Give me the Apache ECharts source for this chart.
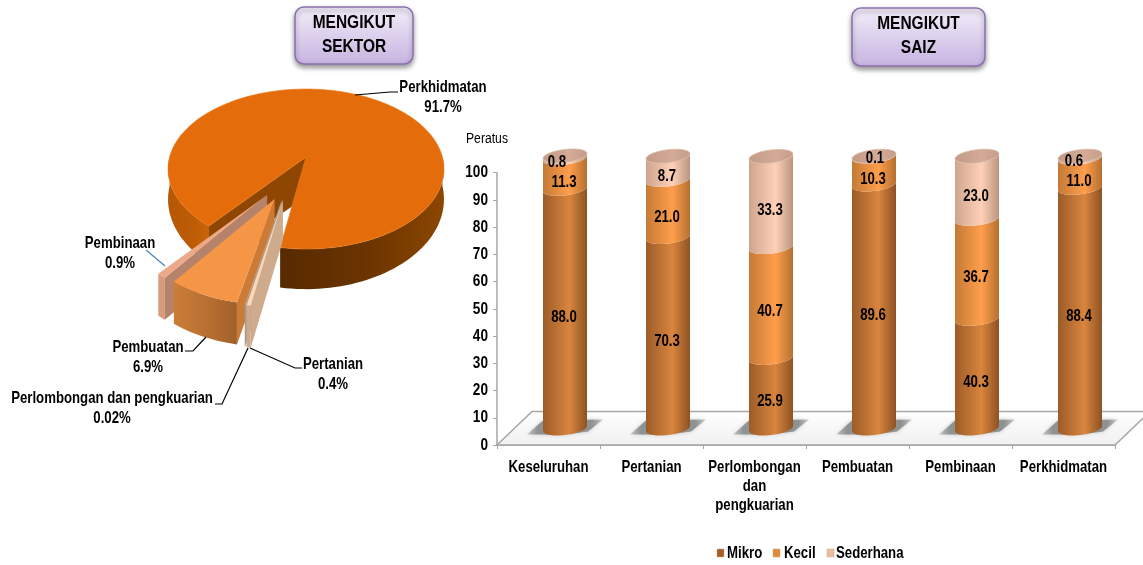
<!DOCTYPE html>
<html><head><meta charset="utf-8">
<style>html,body{margin:0;padding:0;background:#fff}#c{width:1143px;height:565px}</style>
<script src="https://cdn.jsdelivr.net/npm/echarts@6/dist/echarts.min.js"></script>
</head><body><div id="c"></div>
<script>
// ---- data ----
const categories = ['Keseluruhan','Pertanian','Perlombongan\ndan\npengkuarian','Pembuatan','Pembinaan','Perkhidmatan'];
const seriesNames = ['Mikro','Kecil','Sederhana'];
const mikro     = [88.0, 70.3, 25.9, 89.6, 40.3, 88.4];
const kecil     = [11.3, 21.0, 40.7, 10.3, 36.7, 11.0];
const sederhana = [0.8, 8.7, 33.3, 0.1, 23.0, 0.6];
const yTicks = [0,10,20,30,40,50,60,70,80,90,100];
const sectorNames  = ['Pertanian','Perlombongan dan pengkuarian','Pembuatan','Pembinaan','Perkhidmatan'];
const sectorShares = [0.4, 0.02, 6.9, 0.9, 91.7];
const sectorLabels = ['0.4%','0.02%','6.9%','0.9%','91.7%'];

// ---- look ----
const FONT = '"Liberation Sans",Arial,sans-serif';
const NARROW = .8;
const hGrad = (a,b,c) => ({type:'linear',x:0,y:0,x2:1,y2:0,colorStops:[{offset:0,color:a},{offset:.6,color:b},{offset:1,color:c}]});
const barFill = [hGrad('#9c5c28','#d9853e','#8d5222'), hGrad('#c47a36','#ff9e4c','#b57030'), hGrad('#cfa48e','#ffd0b8','#b9957f')];
const legendFill = ['#a65d28','#e18a3c','#e9bda3'];
const shadowFill = {type:'linear',x:0,y:0,x2:1,y2:0,colorStops:[{offset:0,color:'rgba(140,140,140,.35)'},{offset:.15,color:'#8f9292'},{offset:.85,color:'#8f9292'},{offset:1,color:'rgba(140,140,140,.35)'}]};
const narrowText = (x, y, text, size, align, vAlign, extra) => Object.assign({type:'text', x, y, scaleX:NARROW,
  style:Object.assign({text, align, verticalAlign:vAlign, font:'bold '+size+'px '+FONT, fill:'#000'}, extra||{})});

// ---- cylinders ----
const BAR_SHIFT = 16.5, RX = 22, RY = 6.5, TILT = 2.5, LIFT = 16.5;
function arc(cx, ym, from, to) {
  const p = [], n = 24;
  for (let i = 0; i <= n; i++) {
    const t = from + (to - from) * i / n;
    p.push([cx + RX * Math.cos(t), ym + RY * Math.sin(t) - TILT * Math.cos(t)]);
  }
  return p;
}
const labelNudge = {'0-2':[-7,-3],'3-2':[2,-6],'5-2':[-5,-4]};
function cylinder(seriesIdx) {
  return function (params, api) {
    const i = api.value(0), s = api.value(1), e = api.value(2), val = api.value(3);
    const cx = api.coord([i, 0])[0] + BAR_SHIFT;
    const y0 = api.coord([i, s])[1] - LIFT, y1 = api.coord([i, e])[1] - LIFT;
    const children = [];
    if (seriesIdx === 0) {
      children.push({type:'polygon', shape:{points:[[cx-38,y0+6],[cx-22,y0-8],[cx+38,y0-9],[cx+23,y0+3],[cx,y0+6]]},
        style:{fill:shadowFill,shadowBlur:4,shadowColor:'rgba(150,150,150,.5)'}});
    }
    children.push({type:'polygon', shape:{points:arc(cx,y0,Math.PI,0).concat(arc(cx,y1,0,Math.PI))}, style:{fill:barFill[seriesIdx]}});
    if (seriesIdx === 2) {
      children.push({type:'polygon', shape:{points:arc(cx,y1,0,2*Math.PI)},
        style:{fill:hGrad('#c29a85','#d3ab97','#c49c88'),stroke:'#dcb8a4',lineWidth:.8}});
    }
    const n = labelNudge[i + '-' + seriesIdx] || [0,0];
    const mid = api.coord([i, (s + e) / 2])[1] - 8;
    const t = narrowText(cx-1+n[0], mid+n[1], val.toFixed(1), 16.5, 'center', 'middle');
    t.z2 = 10;
    children.push(t);
    return {type:'group', children};
  };
}
function stackData(vals, below) {
  return vals.map((v,i) => { const s = below.reduce((a,b)=>a+b[i],0); return [i, s, s+v, v]; });
}

// ---- perspective pie ----
const PIE = {cx:306, cy:157, rx:136.4, ry:78.2, k:.15, d:29, maxDepth:42, apexDepth:40, start:189.3};
const explode = {'Pertanian':[-.156,.508],'Perlombongan dan pengkuarian':[-.165,.508],'Pembuatan':[-.213,.496],'Pembinaan':[-.266,.453],'Perkhidmatan':[0,0]};
const sliceLook = {
  'Perkhidmatan':{top:'#e46c0a',cut:'#8f4603',wall:null,r:1},
  'Pembinaan':{top:'#eba98a',cut:'#b5836b',wall:'#d99a7c',r:.985},
  'Pembuatan':{top:'#f59647',cut:'#cd7a37',wall:hGrad('#cb7e39','#b56d30','#a0602c'),r:.975},
  'Perlombongan dan pengkuarian':{top:'#e9e2d4',cut:'#a89a8a',wall:'#a89a8a',r:.985},
  'Pertanian':{top:'#fbd7b8',cut:'#cfab8d',wall:'#cfab8d',r:.985}
};
function proj(u, v) { const w = 1 - PIE.k * v; return [PIE.cx + PIE.rx * u / w, PIE.cy + PIE.ry * v / w]; }
function down(u, v) { const w = 1 - PIE.k * v; const p = proj(u, v); return [p[0], p[1] + Math.min(PIE.maxDepth, PIE.d / (w * w))]; }
function rim(off, r, a0, a1, fn) {
  const pts = [], n = Math.max(2, Math.ceil(Math.abs(a1 - a0) / 2));
  for (let i = 0; i <= n; i++) {
    const a = (a0 + (a1 - a0) * i / n) * Math.PI / 180;
    pts.push(fn(off[0] + r * Math.sin(a), off[1] - r * Math.cos(a)));
  }
  return pts;
}
const total = sectorShares.reduce((a,b)=>a+b,0);
const spans = {}; { let a = PIE.start; sectorNames.forEach((n,i)=>{ const sw = sectorShares[i]/total*360; spans[n]=[a,a+sw]; a+=sw; }); }
function wall(off, r, a0, a1, fill) {
  const t = rim(off,r,a0,a1,proj), b = rim(off,r,a0,a1,down).reverse();
  return {type:'polygon', shape:{points:t.concat(b)}, style:{fill}};
}
function renderSlice(params, api) {
  const name = sectorNames[api.value(0)], [a0,a1] = spans[name], off = explode[name], look = sliceLook[name], r = look.r;
  const c = [];
  const apex = proj(off[0],off[1]), apexB = [apex[0], apex[1] + PIE.apexDepth];
  const cut = a => { const q = a*Math.PI/180, u = off[0]+r*Math.sin(q), v = off[1]-r*Math.cos(q);
    return {type:'polygon', shape:{points:[apex, proj(u,v), down(u,v), apexB]}, style:{fill:look.cut}}; };
  if (name === 'Perkhidmatan') {
    c.push(cut(a0));                                   // far cut face seen through the gap
    c.push(wall(off, r, 450, a1, {type:'linear',x:1,y:0,x2:0,y2:0,colorStops:[{offset:0,color:'#8c4600'},{offset:.45,color:'#6c3500'},{offset:1,color:'#572a00'}]}));
    c.push(wall(off, r, a0, 270, hGrad('#b55705','#bd5c06','#c96409')));
    c.push({type:'polygon', shape:{points:[apex].concat(rim(off,r,a0,a1,proj))}, style:{fill:look.top, stroke:'#ea7f22', lineWidth:.6}});
  } else {
    c.push(wall(off, r, a0, a1, look.wall));
    c.push(cut(a0));
    c.push({type:'polygon', shape:{points:[apex].concat(rim(off,r,a0,a1,proj))}, style:{fill:look.top}});
  }
  return {type:'group', children:c};
}

// ---- annotations ----
function box(l, t, w, h, lines) {
  return [{type:'rect', x:l, y:t, z:20, shape:{width:w,height:h,r:9},
      style:{fill:{type:'linear',x:0,y:0,x2:0,y2:1,colorStops:[{offset:0,color:'#f3eefa'},{offset:1,color:'#c6b3e0'}]},
      stroke:'#8a70ad',lineWidth:1.5,shadowBlur:5,shadowOffsetY:3,shadowColor:'rgba(0,0,0,.4)'}},
    {type:'text', z:21, x:l+w/2, y:t+4, scaleX:.86, style:{text:lines, align:'center', verticalAlign:'top', font:'bold 18px '+FONT, lineHeight:24, fill:'#000'}}];
}
function caption(x, y, a, b) {
  return [Object.assign(narrowText(x,y,a,16.5,'center','middle'),{z:21}), Object.assign(narrowText(x,y+20,b,16.5,'center','middle'),{z:21})];
}
function leader(points, color) {
  return {type:'polyline', z:19, shape:{points}, style:{stroke:color||'#000', lineWidth:1.2, fill:null}};
}
const L = i => sectorLabels[i];
const legendIconX = [717, 773, 827], legendTextX = [727, 784, 836];
const legendMarks = seriesNames.flatMap((n,i)=>[
  {type:'rect', z:21, x:legendIconX[i], y:549, shape:{width:7,height:8}, style:{fill:legendFill[i], stroke:'#c9a98f', lineWidth:.5}},
  Object.assign(narrowText(legendTextX[i],553,n,16.5,'left','middle'),{z:21})
]);
const graphics = [].concat(
  box(295,7,118,57,'MENGIKUT\nSEKTOR'), box(852,8,133,58,'MENGIKUT\nSAIZ'),
  caption(443,87,sectorNames[4],L(4)), caption(120,243,sectorNames[3],L(3)),
  caption(148,347,sectorNames[2],L(2)), caption(333,364,sectorNames[0],L(0)), caption(112,398,sectorNames[1],L(1)),
  legendMarks,
  [leader([[355,95],[390,92],[398,92]]), leader([[146,250],[165,266]],'#4f81bd'),
   leader([[185,351],[193,351],[206,337]]), leader([[302,368],[295,368],[250,348]]), leader([[215,404],[222,404],[248,348]]),
   {type:'text', z:21, x:466, y:139, scaleX:.87, style:{text:'Peratus', align:'left', verticalAlign:'middle', font:'14px '+FONT, fill:'#000'}}]
);

const option = {
  animation:false, backgroundColor:'#fff',
  graphic:graphics,
  grid:{left:497, right:28, top:172.7, bottom:120, containLabel:false},
  xAxis:{type:'category', data:categories, boundaryGap:true,
    axisLine:{lineStyle:{color:'#a6a6a6',width:2}}, axisTick:{show:true,length:4,lineStyle:{color:'#a6a6a6'}},
    axisLabel:{show:false}},
  yAxis:{type:'value', min:0, max:100, interval:10,
    axisLine:{show:true,lineStyle:{color:'#a6a6a6',width:1.5}}, axisTick:{show:true,length:4,lineStyle:{color:'#a6a6a6'}},
    splitLine:{show:false}, axisLabel:{show:false}},
  series:[
    {type:'custom', name:'floor', silent:true, z:1, data:[[0]], renderItem:(p,api)=>{
      const b = p.coordSys, x0=b.x, x1=b.x+b.width, y=b.y+b.height, dx=35, dy=-33.5;
      return {type:'group',children:[
        {type:'polygon',shape:{points:[[x0,y],[x0+dx,y+dy],[x1+dx,y+dy],[x1,y]]},
         style:{fill:{type:'linear',x:0,y:0,x2:0,y2:1,colorStops:[{offset:0,color:'#fff'},{offset:1,color:'#f0f0f0'}]},stroke:'#a6a6a6',lineWidth:1.5}}
      ]};
    }},
    {type:'custom', name:'xLabels', silent:true, z:6, data:categories.map((c,i)=>[i]), renderItem:(p,api)=>{
      const i = api.value(0), pt = api.coord([i,0]);
      return narrowText(pt[0], pt[1]+13, categories[i], 16.5, 'center', 'top', {lineHeight:19});
    }},
    {type:'custom', name:'yLabels', silent:true, z:6, data:yTicks.map(v=>[0,v]), renderItem:(p,api)=>{
      const v = api.value(1);
      return narrowText(p.coordSys.x-9, api.coord([0,v])[1], String(yTicks[p.dataIndex]), 17, 'right', 'middle');
    }},
    {type:'custom', name:seriesNames[0], z:2, data:stackData(mikro,[]), renderItem:cylinder(0), encode:{x:0,y:2}},
    {type:'custom', name:seriesNames[1], z:3, data:stackData(kecil,[mikro]), renderItem:cylinder(1), encode:{x:0,y:2}},
    {type:'custom', name:seriesNames[2], z:4, data:stackData(sederhana,[mikro,kecil]), renderItem:cylinder(2), encode:{x:0,y:2}},
    {type:'custom', name:'sektor', coordinateSystem:'none', z:5, silent:true,
      data:sectorNames.map((n,i)=>[i,sectorShares[i]]).reverse(), renderItem:renderSlice}
  ]
};
const chart = echarts.init(document.getElementById('c'), null, {renderer:'canvas'});
chart.setOption(option);
</script></body></html>
